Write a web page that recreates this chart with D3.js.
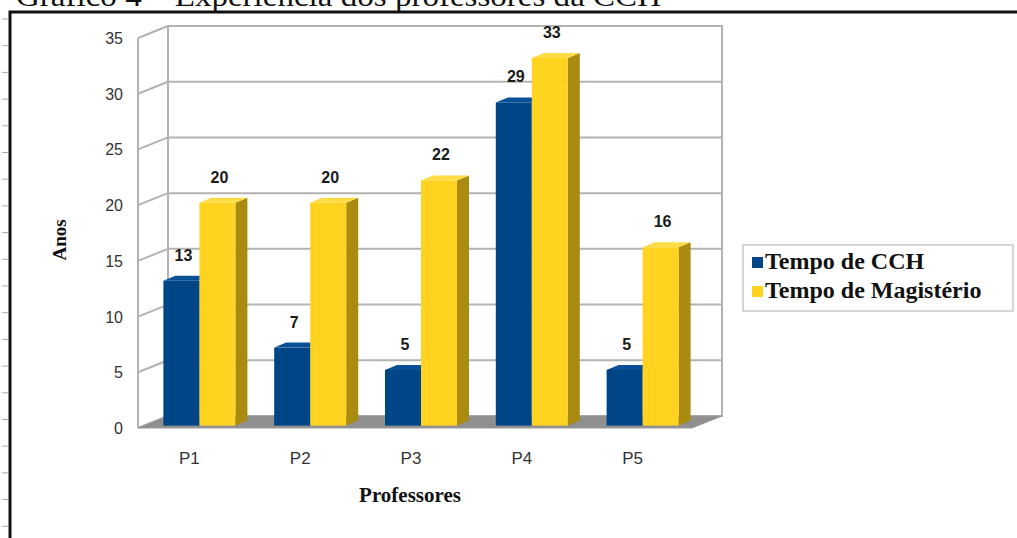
<!DOCTYPE html>
<html>
<head>
<meta charset="utf-8">
<script src="https://cdn.jsdelivr.net/npm/d3@7"></script>
<style>
  body { margin: 0; background: #fff; }
  svg { display: block; }
</style>
</head>
<body>
<svg id="chart"></svg>
<script>
const width = 1017;
const height = 538;

// data
const professores = ['P1', 'P2', 'P3', 'P4', 'P5'];
const series = ['Tempo de CCH', 'Tempo de Magistério'];
const tempoCCH = [13, 7, 5, 29, 5];
const tempoMagisterio = [20, 20, 22, 33, 16];
const yTicks = [0, 5, 10, 15, 20, 25, 30, 35];

const colors = ['#004586', '#ffd320'];
const sideColors = ['#00305e', '#a98b10'];
const topColors = ['#0a5096', '#ffdc45'];

// 3d offsets
const wall = { dx: 30, dy: -12 };
const barShift = { dx: 6, dy: -2.4 };
const barDepth = { dx: 12, dy: -5 };

const svg = d3.select('#chart')
    .attr('width', width)
    .attr('height', height);

const x = d3.scaleBand().domain(professores).range([138, 692]);
const xInner = d3.scaleBand().domain(series).range([0, 72]);
const y = d3.scaleLinear().domain([0, 35]).range([428, 38]);

const poly = pts => 'M' + pts.map(p => p.join(',')).join('L') + 'Z';

// page frame with the caption cut off at the top, as in the scan
svg.append('text')
    .attr('x', 16)
    .attr('y', 6)
    .attr('font-family', 'Liberation Serif')
    .attr('font-size', 30)
    .attr('textLength', 645)
    .attr('lengthAdjust', 'spacingAndGlyphs')
    .attr('fill', '#111')
    .text('Gráfico 4 – Experiência dos professores da CCH');

svg.append('path')
    .attr('d', `M10,${height}V12H${width}`)
    .attr('fill', 'none')
    .attr('stroke', '#111')
    .attr('stroke-width', 3);

d3.range(19, height, 26.7).forEach(t => {
    svg.append('line')
        .attr('x1', 2).attr('x2', 8)
        .attr('y1', t).attr('y2', t)
        .attr('stroke', '#aaa');
});

const x0 = x.range()[0];
const x1 = x.range()[1];

// back wall
svg.append('rect')
    .attr('x', x0 + wall.dx)
    .attr('y', y(35) + wall.dy)
    .attr('width', x1 - x0)
    .attr('height', y(0) - y(35))
    .attr('fill', '#fff')
    .attr('stroke', '#b3b3b3')
    .attr('stroke-width', 2);

// gridlines on back and left walls
yTicks.forEach(t => {
    svg.append('line')
        .attr('x1', x0 + wall.dx).attr('x2', x1 + wall.dx)
        .attr('y1', y(t) + wall.dy).attr('y2', y(t) + wall.dy)
        .attr('stroke', '#b3b3b3')
        .attr('stroke-width', 2);
    svg.append('line')
        .attr('x1', x0).attr('x2', x0 + wall.dx)
        .attr('y1', y(t)).attr('y2', y(t) + wall.dy)
        .attr('stroke', '#b3b3b3')
        .attr('stroke-width', 2);
});

svg.append('line')
    .attr('x1', x0).attr('x2', x0)
    .attr('y1', y(35)).attr('y2', y(0))
    .attr('stroke', '#b3b3b3')
    .attr('stroke-width', 2);

// floor
svg.append('path')
    .attr('d', poly([[x0, y(0)], [x1, y(0)], [x1 + wall.dx, y(0) + wall.dy], [x0 + wall.dx, y(0) + wall.dy]]))
    .attr('fill', '#8f8f8f')
    .attr('stroke', '#9a9a9a')
    .attr('stroke-width', 1);

// y tick labels
svg.selectAll('.ytick')
    .data(yTicks)
    .enter()
    .append('text')
    .attr('class', 'ytick')
    .attr('x', 123)
    .attr('y', d => y(d) + 6)
    .attr('text-anchor', 'end')
    .attr('font-family', 'Liberation Sans')
    .attr('font-size', 16)
    .attr('fill', '#333')
    .text(d => d);

// bars
const rows = [];
professores.forEach((p, i) => {
    rows.push({ cat: p, s: 0, v: tempoCCH[i] });
    rows.push({ cat: p, s: 1, v: tempoMagisterio[i] });
});

const bw = xInner.bandwidth();
rows.forEach(d => {
    const left = x(d.cat) + x.bandwidth() / 2 - 36 + xInner(series[d.s]) + barShift.dx;
    const right = left + bw;
    const top = y(d.v) + barShift.dy;
    const bottom = y(0) + barShift.dy;
    d.cx = left + bw / 2;
    d.top = top;

    svg.append('path')
        .attr('d', poly([[right, top], [right + barDepth.dx, top + barDepth.dy], [right + barDepth.dx, bottom + barDepth.dy], [right, bottom]]))
        .attr('fill', sideColors[d.s]);
    svg.append('path')
        .attr('d', poly([[left, top], [left + barDepth.dx, top + barDepth.dy], [right + barDepth.dx, top + barDepth.dy], [right, top]]))
        .attr('fill', topColors[d.s]);
    svg.append('rect')
        .attr('x', left)
        .attr('y', top)
        .attr('width', bw)
        .attr('height', bottom - top)
        .attr('fill', colors[d.s]);
});

svg.selectAll('.vlabel')
    .data(rows)
    .enter()
    .append('text')
    .attr('class', 'vlabel')
    .attr('x', d => d.cx + 2)
    .attr('y', d => d.top - 20)
    .attr('text-anchor', 'middle')
    .attr('font-family', 'Liberation Sans')
    .attr('font-weight', 'bold')
    .attr('font-size', 16)
    .attr('fill', '#1a1a1a')
    .text(d => d.v);

// category labels
svg.selectAll('.xtick')
    .data(professores)
    .enter()
    .append('text')
    .attr('class', 'xtick')
    .attr('x', d => x(d) + x.bandwidth() / 2 - 4)
    .attr('y', 464)
    .attr('text-anchor', 'middle')
    .attr('font-family', 'Liberation Sans')
    .attr('font-size', 17)
    .attr('fill', '#333')
    .text(d => d);

// axis titles
svg.append('text')
    .attr('transform', 'translate(66,240) rotate(-90)')
    .attr('text-anchor', 'middle')
    .attr('font-family', 'Liberation Serif')
    .attr('font-weight', 'bold')
    .attr('font-size', 19)
    .attr('fill', '#111')
    .text('Anos');

svg.append('text')
    .attr('x', 410)
    .attr('y', 502)
    .attr('text-anchor', 'middle')
    .attr('font-family', 'Liberation Serif')
    .attr('font-weight', 'bold')
    .attr('font-size', 21)
    .attr('fill', '#111')
    .text('Professores');

// legend
const legend = svg.append('g').attr('transform', 'translate(743,245)');
legend.append('rect')
    .attr('width', 270)
    .attr('height', 66)
    .attr('fill', '#fff')
    .attr('stroke', '#c8c8c8')
    .attr('stroke-width', 1.5);

series.forEach((s, i) => {
    legend.append('rect')
        .attr('x', 9)
        .attr('y', 12 + i * 29)
        .attr('width', 11)
        .attr('height', 11)
        .attr('fill', colors[i]);
    legend.append('text')
        .attr('x', 22)
        .attr('y', 24 + i * 29)
        .attr('font-family', 'Liberation Serif')
        .attr('font-weight', 'bold')
        .attr('font-size', 24)
        .attr('fill', '#111')
        .text(s);
});
</script>
</body>
</html>
